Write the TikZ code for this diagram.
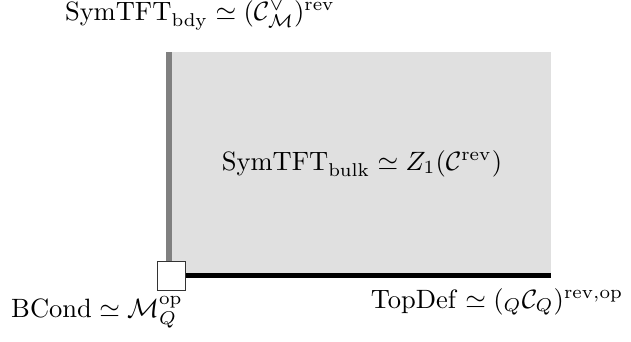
\documentclass[tikz,border=0pt]{standalone}
\usepackage{amsmath,amssymb}
\begin{document}
\begin{tikzpicture}[x=0.377pt,y=-0.377pt,
  lbl/.style={anchor=base,inner sep=0pt},
  bcond/.style={draw=black!80,fill=white,line width=0.4pt,minimum size=10.9pt,inner sep=0pt}]
\useasboundingbox (0,0) rectangle (631,341);
\fill[black!12] (169,52) rectangle (551,275.5);
\node[bcond] (sq) at (171.5,276) {};
\coordinate (top) at (169,52);
\coordinate (right) at (551,275.5);
\draw[line width=2.3pt,black!50] (top) -- (top |- sq.north);
\draw[line width=1.9pt,black] (sq.east |- right) -- (right);
\node[lbl] (bdy) at (200,20) {$\mathrm{SymTFT}_{\mathrm{bdy}}\simeq(\mathcal{C}^{\vee}_{\mathcal{M}})^{\mathrm{rev}}$};
\node[lbl] (bulk) at (362,170) {$\mathrm{SymTFT}_{\mathrm{bulk}}\simeq Z_1(\mathcal{C}^{\mathrm{rev}})$};
\node[lbl] (bc) at (97,317) {$\mathrm{BCond}\simeq\mathcal{M}_Q^{\mathrm{op}}$};
\node[lbl] (td) at (497,308) {$\mathrm{TopDef}\simeq({}_Q\mathcal{C}_Q)^{\mathrm{rev,op}}$};
\end{tikzpicture}
\end{document}
